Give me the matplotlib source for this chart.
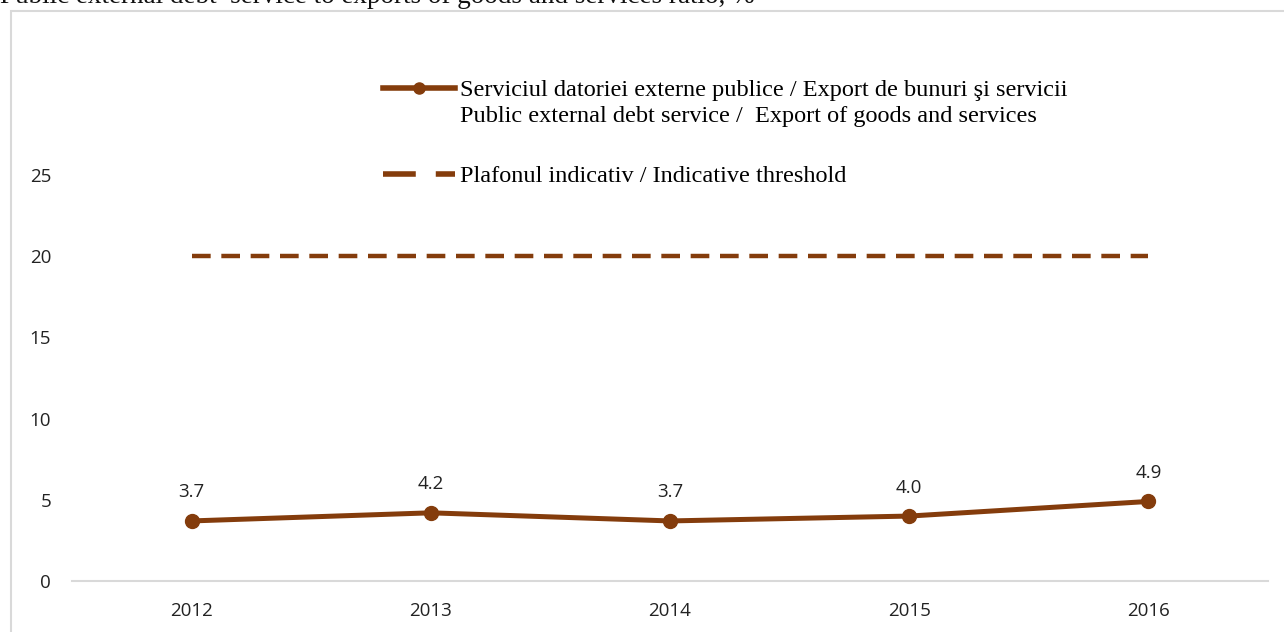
import matplotlib
matplotlib.use("Agg")
import matplotlib.pyplot as plt
from matplotlib.patches import Rectangle
from matplotlib.lines import Line2D

# Data
years = ["2012", "2013", "2014", "2015", "2016"]
debt_ratio = [3.7, 4.2, 3.7, 4.0, 4.9]
threshold = [20, 20, 20, 20, 20]
yticks = [0, 5, 10, 15, 20, 25]

title_text = "Public external debt  service to exports of goods and services ratio, %"
label_ro = "Serviciul datoriei externe publice / Export de bunuri şi servicii"
label_en = "Public external debt service /  Export of goods and services"
label_thr = "Plafonul indicativ / Indicative threshold"

brown = "#843c0c"
grey = "#d9d9d9"
sans = ["Open Sans", "DejaVu Sans"]
serif = ["Liberation Serif", "DejaVu Serif"]

W, H = 1284, 632
fig = plt.figure(figsize=(W / 100, H / 100), dpi=100)

# axes placed in pixel terms of the reference
ax = fig.add_axes([72 / W, (H - 581) / H, (1268 - 72) / W, (581 - 94) / H])

x = list(range(len(years)))
ax.plot(x, threshold, color=brown, lw=3.2, dashes=(4.2, 2.4), solid_capstyle="butt")
ax.plot(x, debt_ratio, color=brown, lw=3.6, marker="o", markersize=10)

for xi, v in zip(x, debt_ratio):
    ax.annotate(f"{v:.1f}", (xi, v), xytext=(0, 14), textcoords="offset points",
                ha="center", va="bottom", fontsize=13.5, family=sans, color="#222222")

ax.set_xlim(-0.5, len(years) - 0.5)
ax.set_ylim(0, 30)
ax.set_xticks(x)
ax.set_xticklabels(years, family=sans, fontsize=13.5, color="#222222")
ax.set_yticks(yticks)
ax.set_yticklabels([str(t) for t in yticks], family=sans, fontsize=13.5, color="#222222")
ax.tick_params(axis="both", length=0)
ax.tick_params(axis="x", pad=15)
ax.tick_params(axis="y", pad=15)
for side in ["top", "right", "left"]:
    ax.spines[side].set_visible(False)
ax.spines["bottom"].set_color(grey)
ax.spines["bottom"].set_linewidth(1.5)

# legend: two blocks so the marker line sits on the first text line
h_line = Line2D([], [], color=brown, lw=4, marker="o", markersize=8)
h_blank = Line2D([], [], color="none")
h_dash = Line2D([], [], color=brown, lw=4, dashes=(5.9, 3.6))

leg_font = {"family": serif, "size": 17.5}
leg1 = ax.legend([h_line, h_blank], [label_ro, label_en], loc="upper left",
                 bbox_to_anchor=(383 / W, 1 - 79 / H), bbox_transform=fig.transFigure,
                 frameon=False, prop=leg_font,
                 handlelength=2.95, handletextpad=0.2, labelspacing=0.17,
                 borderpad=0, borderaxespad=0)
ax.add_artist(leg1)
ax.legend([h_dash], [label_thr], loc="upper left",
          bbox_to_anchor=(383 / W, 1 - 165 / H), bbox_transform=fig.transFigure,
          frameon=False, prop=leg_font,
          handlelength=2.95, handletextpad=0.2, borderpad=0, borderaxespad=0)

# chart frame, running off the right and bottom edges
fig.patches.append(Rectangle((11 / W, -0.1), 1.2, 1 - 11 / H + 0.1,
                             transform=fig.transFigure, fill=False,
                             edgecolor=grey, lw=1.5))

fig.text(0.0, 1 - 3 / H, title_text, family=serif, fontsize=19.5, va="baseline",
         ha="left", color="#111111")

fig.savefig("out.png", dpi=100)
